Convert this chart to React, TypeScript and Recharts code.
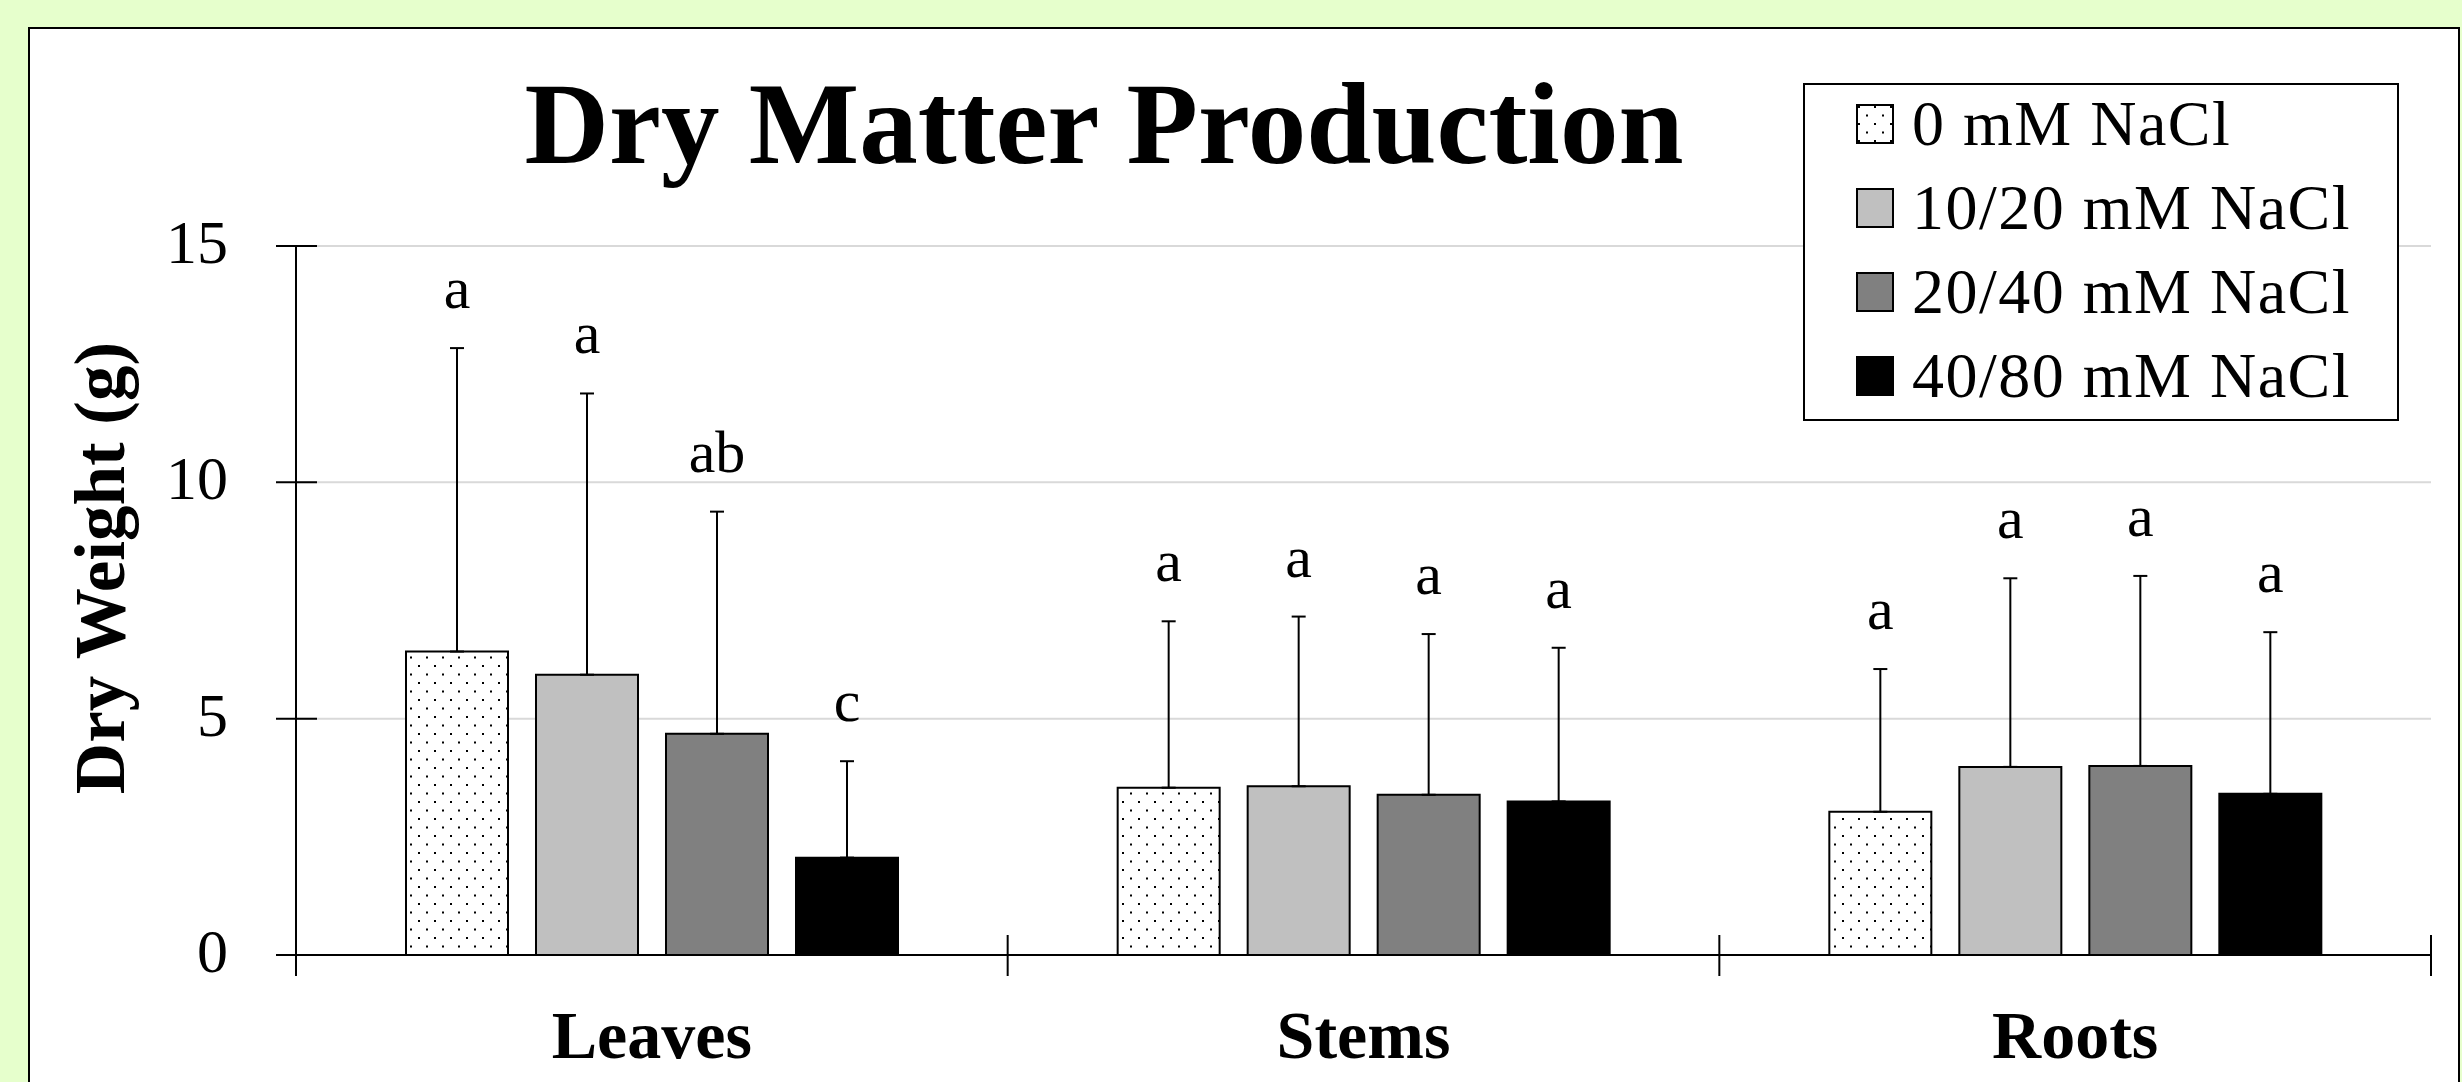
import React from "react";
import { Bar, BarChart, CartesianGrid, ErrorBar, LabelList, Legend, XAxis, YAxis } from "recharts";

const SERIF = "'Liberation Serif', 'Times New Roman', serif";

const categories = ["Leaves", "Stems", "Roots"];
const treatments = ["0 mM NaCl", "10/20 mM NaCl", "20/40 mM NaCl", "40/80 mM NaCl"];

// mean dry weight (g) per organ
const mean0 = [6.42, 3.54, 3.03];
const mean1 = [5.93, 3.57, 3.98];
const mean2 = [4.68, 3.39, 4.0];
const mean3 = [2.06, 3.25, 3.41];

// upper error (only drawn above the bar)
const err0 = [6.42, 3.52, 3.02];
const err1 = [5.95, 3.59, 3.99];
const err2 = [4.7, 3.4, 4.02];
const err3 = [2.04, 3.25, 3.42];

// significance letters
const letters0 = ["a", "a", "a"];
const letters1 = ["a", "a", "a"];
const letters2 = ["ab", "a", "a"];
const letters3 = ["c", "a", "a"];

const yTicks = [0, 5, 10, 15];

const fills = ["url(#dots)", "#c0c0c0", "#808080", "#000000"];
const means = [mean0, mean1, mean2, mean3];
const errs = [err0, err1, err2, err3];
const letters = [letters0, letters1, letters2, letters3];

const rows = categories.map((name, i) => {
  const row: Record<string, unknown> = { name };
  means.forEach((m, s) => {
    row[`m${s}`] = m[i];
    row[`e${s}`] = [0, errs[s][i]];
    row[`l${s}`] = letters[s][i];
  });
  return row;
});

function DotPattern({ id }: { id: string }) {
  return (
    <pattern id={id} width={16} height={17} patternUnits="userSpaceOnUse">
      <rect width={16} height={17} fill="#fff" />
      <rect x={2} y={2} width={2} height={2} fill="#000" />
      <rect x={10} y={10.5} width={2} height={2} fill="#000" />
    </pattern>
  );
}

function ValueTick(props: any) {
  const { x, y, payload } = props;
  return (
    <g>
      <line x1={x - 20} x2={x + 21} y1={y} y2={y} stroke="#000" strokeWidth={2} />
      <text x={x - 68} y={y} dy={17} textAnchor="end" fontFamily={SERIF} fontSize={62} fill="#000">
        {payload.value}
      </text>
    </g>
  );
}

function CategoryTick(props: any) {
  const { x, y, payload, index } = props;
  const half = payload?.offset ?? 356;
  return (
    <g>
      <line x1={x - half} x2={x - half} y1={y - 20} y2={y + 21} stroke="#000" strokeWidth={2} />
      {index === categories.length - 1 && (
        <line x1={x + half} x2={x + half} y1={y - 20} y2={y + 21} stroke="#000" strokeWidth={2} />
      )}
      <text x={x} y={y + 103} textAnchor="middle" fontFamily={SERIF} fontWeight="bold" fontSize={68} fill="#000">
        {payload.value}
      </text>
    </g>
  );
}

const letterLabel = (s: number) => (p: any) => {
  const vb = p.viewBox ?? p;
  const x = Number(vb.x ?? p.x);
  const y = Number(vb.y ?? p.y);
  const w = Number(vb.width ?? p.width);
  const h = Number(vb.height ?? p.height);
  const i = p.index;
  const pxPerUnit = h / means[s][i];
  const top = y - errs[s][i] * pxPerUnit;
  return (
    <text x={x + w / 2} y={top - 40} textAnchor="middle" fontFamily={SERIF} fontSize={60} fill="#000">
      {p.value}
    </text>
  );
};

function LegendBox() {
  return (
    <div
      style={{
        width: 596,
        height: 338,
        boxSizing: "border-box",
        border: "2px solid #000",
        background: "#fff",
        position: "relative",
        fontFamily: SERIF,
      }}
    >
      {treatments.map((t, i) => (
        <div
          key={t}
          style={{ position: "absolute", left: 51, top: -3 + i * 84, height: 84, display: "flex", alignItems: "center" }}
        >
          <svg width={38} height={40} style={{ marginRight: 18 }}>
            <defs>
              <DotPattern id={`ldots${i}`} />
            </defs>
            <rect
              x={1}
              y={1}
              width={36}
              height={38}
              fill={i === 0 ? `url(#ldots${i})` : fills[i]}
              stroke="#000"
              strokeWidth={2}
            />
          </svg>
          <span style={{ fontSize: 64, lineHeight: 1, whiteSpace: "nowrap", letterSpacing: 1.5, color: "#000" }}>
            {t}
          </span>
        </div>
      ))}
    </div>
  );
}

export default function App() {
  return (
    <div style={{ position: "absolute", left: 0, top: 0, width: 2462, height: 1082, overflow: "hidden", background: "#e6ffcc" }}>
      <div
        style={{
          position: "absolute",
          left: 28,
          top: 27,
          width: 2432,
          height: 1120,
          boxSizing: "border-box",
          border: "2px solid #000",
          background: "#fff",
        }}
      />
      <div style={{ position: "absolute", left: 0, top: 0 }}>
        <BarChart
          width={2462}
          height={1082}
          data={rows}
          margin={{ top: 246, right: 31, bottom: 0, left: 0 }}
          barSize={102}
          barGap={28}
        >
          <defs>
            <DotPattern id="dots" />
          </defs>
          <CartesianGrid vertical={false} stroke="#d9d9d9" strokeWidth={2} />
          <XAxis
            dataKey="name"
            height={127}
            axisLine={{ stroke: "#000", strokeWidth: 2 }}
            tickLine={false}
            tickSize={0}
            tickMargin={0}
            tick={<CategoryTick />}
            interval={0}
          />
          <YAxis
            width={296}
            domain={[0, 15]}
            ticks={yTicks}
            allowDataOverflow
            axisLine={{ stroke: "#000", strokeWidth: 2 }}
            tickLine={false}
            tickSize={0}
            tickMargin={0}
            tick={<ValueTick />}
          />
          <Legend
            layout="horizontal"
            verticalAlign="middle"
            align="center"
            wrapperStyle={{ left: 1803, top: 83, width: 596, height: 338 }}
            content={() => <LegendBox />}
          />
          {treatments.map((t, s) => (
            <Bar
              key={t}
              dataKey={`m${s}`}
              name={t}
              fill={fills[s]}
              stroke="#000"
              strokeWidth={2}
              isAnimationActive={false}
            >
              <ErrorBar dataKey={`e${s}`} width={7} stroke="#000" strokeWidth={2} direction="y" />
              <LabelList dataKey={`l${s}`} content={letterLabel(s)} />
            </Bar>
          ))}
        </BarChart>
      </div>
      <svg width={2462} height={1082} style={{ position: "absolute", left: 0, top: 0, pointerEvents: "none" }}>
        <text x={1104} y={163} textAnchor="middle" fontFamily={SERIF} fontWeight="bold" fontSize={117} fill="#000">
          Dry Matter Production
        </text>
        <text
          transform="translate(124,568) rotate(-90)"
          textAnchor="middle"
          fontFamily={SERIF}
          fontWeight="bold"
          fontSize={71}
          fill="#000"
        >
          Dry Weight (g)
        </text>
      </svg>
    </div>
  );
}
